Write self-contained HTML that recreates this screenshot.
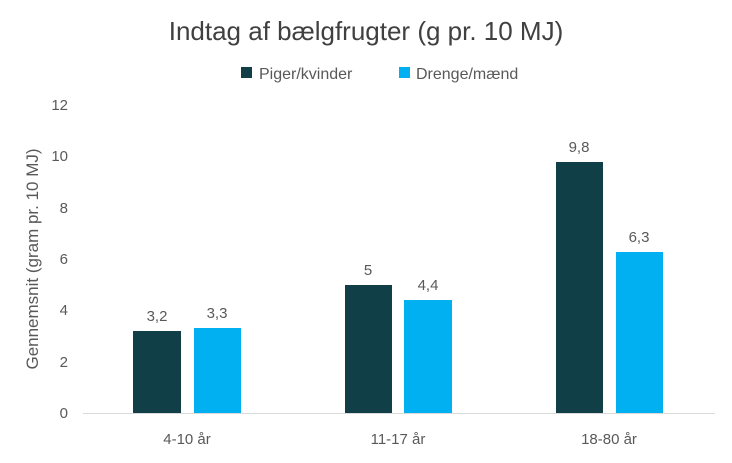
<!DOCTYPE html>
<html><head><meta charset="utf-8"><style>
body{margin:0;background:#fff;}
text{font-family:"Liberation Sans",sans-serif;fill:#595959;}
</style></head><body>
<svg width="732" height="458" xmlns="http://www.w3.org/2000/svg">
<rect width="732" height="458" fill="#fff"/>
<text x="366" y="40" text-anchor="middle" font-size="26" style="fill:#404040">Indtag af bælgfrugter (g pr. 10 MJ)</text>
<rect x="241" y="67" width="11" height="11" fill="#103f48"/>
<text x="259" y="79" font-size="16">Piger/kvinder</text>
<rect x="399" y="67" width="11" height="11" fill="#00b0f0"/>
<text x="416" y="79" font-size="16">Drenge/mænd</text>
<g font-size="15" text-anchor="end">
<text x="68" y="418">0</text>
<text x="68" y="367">2</text>
<text x="68" y="315">4</text>
<text x="68" y="264">6</text>
<text x="68" y="213">8</text>
<text x="68" y="161">10</text>
<text x="68" y="110">12</text>
</g>
<text transform="translate(38,259) rotate(-90)" text-anchor="middle" font-size="17">Gennemsnit (gram pr. 10 MJ)</text>
<line x1="83" y1="413.5" x2="715" y2="413.5" stroke="#d9d9d9" stroke-width="1"/>
<g fill="#103f48">
<rect x="133" y="331" width="48" height="82"/>
<rect x="345" y="285" width="47" height="128"/>
<rect x="556" y="162" width="47" height="251"/>
</g>
<g fill="#00b0f0">
<rect x="194" y="328" width="47" height="85"/>
<rect x="404" y="300" width="48" height="113"/>
<rect x="616" y="252" width="47" height="161"/>
</g>
<g font-size="15" text-anchor="middle">
<text x="157" y="321">3,2</text>
<text x="217" y="318">3,3</text>
<text x="368" y="275">5</text>
<text x="428" y="290">4,4</text>
<text x="579" y="152">9,8</text>
<text x="639" y="242">6,3</text>
<text x="187" y="444">4-10 år</text>
<text x="398" y="444">11-17 år</text>
<text x="609" y="444">18-80 år</text>
</g>
</svg>
</body></html>
